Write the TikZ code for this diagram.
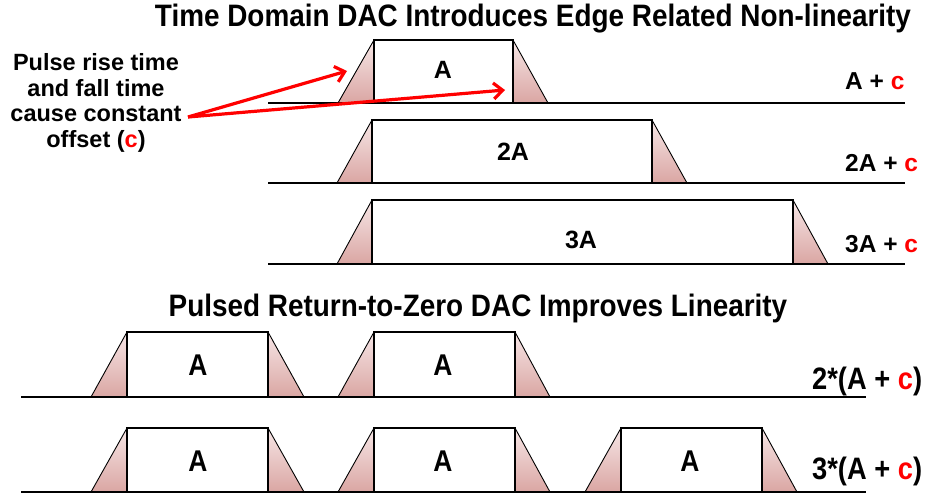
\documentclass[tikz,border=0pt]{standalone}
\usepackage{fontspec}
\setmainfont{Liberation Sans}
\newfontfamily\narrowsans{Liberation Sans}[FakeStretch=0.88]
\newfontfamily\titlesans{Liberation Sans}[FakeStretch=0.9]
\usetikzlibrary{arrows.meta}

\definecolor{edgetop}{RGB}{246,230,230}
\definecolor{edgebot}{RGB}{218,166,163}
\definecolor{offsetred}{RGB}{255,0,0}

\tikzset{
  wave/.style={line width=2pt, line cap=butt, line join=miter, black},
  slope/.style={line width=0.9pt, black},
  edgefill/.style={top color=edgetop, bottom color=edgebot},
  titletext/.style={font=\titlesans\bfseries\fontsize{31}{34}\selectfont, inner sep=0pt},
  pulselbl/.style={font=\bfseries\fontsize{25}{28}\selectfont, inner sep=0pt},
  sumlbl/.style={font=\bfseries\fontsize{24.5}{27}\selectfont, inner sep=0pt, anchor=base west},
  rzlbl/.style={font=\narrowsans\bfseries\fontsize{30}{32}\selectfont, inner sep=0pt},
  rzsum/.style={font=\narrowsans\bfseries\fontsize{31}{33}\selectfont, inner sep=0pt, anchor=base west},
  notetext/.style={font=\bfseries\fontsize{23.5}{25.5}\selectfont, align=center, inner sep=0pt},
  offsetarrow/.style={line width=3.2pt, offsetred, -{Straight Barb[length=9pt,width=16pt,line width=3.2pt]}},
}

% one pulse with shaded rise and fall edges
% #1 rise foot x, #2 rise top x, #3 fall top x, #4 fall foot x, #5 base y, #6 top y
\newcommand\dacpulse[6]{%
  \shade[edgefill] (#1,#5) -- (#2,#6) -- (#2,#5) -- cycle;
  \shade[edgefill] (#3,#6) -- (#4,#5) -- (#3,#5) -- cycle;
  \draw[slope] (#1,#5) -- (#2,#6);
  \draw[slope] (#3,#6) -- (#4,#5);
  \draw[wave] (#1,#5) -- (#2,#5) -- (#2,#6) -- (#3,#6) -- (#3,#5) -- (#4,#5);
}

\begin{document}
\begin{tikzpicture}[x=1pt, y=-1pt]
\useasboundingbox (0,0) rectangle (930,495);

% ---------- time domain DAC ----------
\node[titletext] (title1) at (533,19) {Time Domain DAC Introduces Edge Related Non-linearity};

\draw[wave] (268,103) -- (905,103);
\dacpulse{338}{374}{513}{548}{103}{40}
\node[pulselbl] (lA) at (443,70) {A};
\node[sumlbl] (sA) at (845,90) {A + \textcolor{offsetred}{c}};

\draw[wave] (268,183) -- (905,183);
\dacpulse{337}{372}{652}{687}{183}{120}
\node[pulselbl] (l2A) at (513,152) {2A};
\node[sumlbl] (s2A) at (845,171) {2A + \textcolor{offsetred}{c}};

\draw[wave] (268,264) -- (905,264);
\dacpulse{337}{372}{793}{828}{264}{200}
\node[pulselbl] (l3A) at (581,240) {3A};
\node[sumlbl] (s3A) at (845,252) {3A + \textcolor{offsetred}{c}};

% annotation
\node[notetext] (note) at (96,103) {Pulse rise time\\and fall time\\cause constant\\offset (\textcolor{offsetred}{c})};
\coordinate (src) at (188,117);
\coordinate (risetip) at (347,71);
\coordinate (falltip) at (505,90);
\draw[offsetarrow] (src) -- (risetip);
\draw[offsetarrow] (src) -- (falltip);

% ---------- return-to-zero DAC ----------
\node[titletext] (title2) at (478,308) {Pulsed Return-to-Zero DAC Improves Linearity};

\draw[wave] (21,397) -- (866,397);
\dacpulse{91}{127}{268}{304}{397}{332}
\dacpulse{338}{374}{515}{550}{397}{332}
\node[rzlbl] (r1a) at (198,365) {A};
\node[rzlbl] (r1b) at (443,365) {A};
\node[rzsum] (r2sum) at (812,389) {2*(A + \textcolor{offsetred}{c})};

\draw[wave] (21,492) -- (866,492);
\dacpulse{91}{127}{268}{304}{492}{428}
\dacpulse{338}{374}{515}{550}{492}{428}
\dacpulse{585}{621}{762}{797}{492}{428}
\node[rzlbl] (r2a) at (198,461) {A};
\node[rzlbl] (r2b) at (443,461) {A};
\node[rzlbl] (r2c) at (690,461) {A};
\node[rzsum] (r3sum) at (812,479) {3*(A + \textcolor{offsetred}{c})};
\end{tikzpicture}
\end{document}
